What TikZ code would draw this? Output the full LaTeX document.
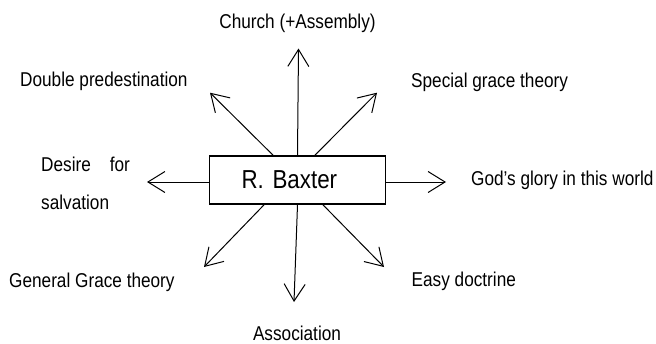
\documentclass[tikz,border=0pt]{standalone}
\usepackage{fontspec}
\setmainfont[FakeStretch=0.86]{Liberation Sans}
\usetikzlibrary{arrows.meta}
\begin{document}
\begin{tikzpicture}[x=1pt,y=-1pt,
  lbl/.style={inner sep=0pt, anchor=base west, font=\fontsize{20}{24}\selectfont},
  arr/.style={-{Straight Barb[length=17pt,width=21pt]}, line width=1pt},
  hub/.style={draw, line width=1.7pt, minimum height=48pt, inner sep=0pt,
    text width=176pt, align=left, font=\fontsize{26}{30}\selectfont}]
\useasboundingbox (0,0) rectangle (656,343);

% central box
\node[hub] (hub) at (297.5,180) {\hspace*{32pt}R. Baxter};

% surrounding themes
\node[lbl, anchor=base] (church) at (297.5,28) {Church (+Assembly)};
\node[lbl] (double) at (20,86.7) {Double predestination};
\node[lbl] (special) at (411,87.5) {Special grace theory};
\node[lbl] (desire) at (41,171.7) {Desire\hspace{19pt}for};
\node[lbl] (salv) at (41,209) {salvation};
\node[lbl] (glory) at (471,185) {God’s glory in this world};
\node[lbl] (general) at (9,287) {General Grace theory};
\node[lbl] (easy) at (411.5,286.7) {Easy doctrine};
\node[lbl, anchor=base] (assoc) at (297,340) {Association};

% arrow end points
\coordinate (eU) at (298.5,48.5);
\coordinate (eD) at (294,302);
\coordinate (eL) at (147,182);
\coordinate (eR) at (446,182);
\coordinate (eUL) at (210,92.7);
\coordinate (eUR) at (377,92.7);
\coordinate (eLL) at (204,267);
\coordinate (eLR) at (384,267);

% arrows radiating from the box
\draw[arr] (hub.north) -- (eU);
\draw[arr] (hub.south) -- (eD);
\draw[arr] (hub.west |- eL) -- (eL);
\draw[arr] (hub.east |- eR) -- (eR);
\draw[arr] ([xshift=-24.5pt]hub.north) -- (eUL);
\draw[arr] ([xshift=17.5pt]hub.north) -- (eUR);
\draw[arr] ([xshift=-33.5pt]hub.south) -- (eLL);
\draw[arr] ([xshift=25.5pt]hub.south) -- (eLR);
\end{tikzpicture}
\end{document}
